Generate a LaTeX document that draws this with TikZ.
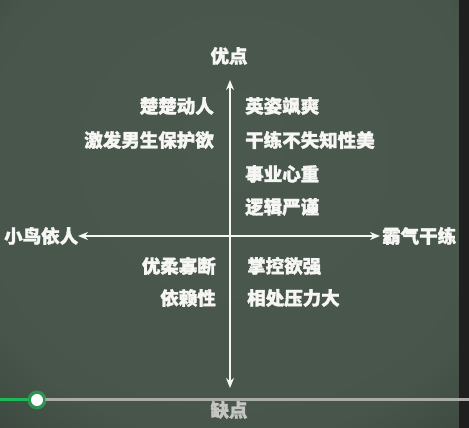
\documentclass[tikz,border=0pt]{standalone}
\usepackage{fontspec}
\newfontfamily\cjk{Noto Sans CJK SC}[BoldFeatures={FakeBold=1.6}]
\usetikzlibrary{arrows.meta}
\definecolor{board}{HTML}{4A584D}
\definecolor{boardedge}{HTML}{2C362F}
\definecolor{chalk}{HTML}{F6F6F4}
\definecolor{playgreen}{HTML}{1DB954}
\definecolor{playgray}{HTML}{A9ACA9}
\tikzset{
  lbl/.style={text=chalk, font=\cjk\bfseries\fontsize{18.5}{18.5}\selectfont, inner sep=0pt},
  axis/.style={draw=chalk, line width=2pt, -{Stealth[length=10pt,width=8pt]}}
}
\begin{document}
\begin{tikzpicture}[x=1pt,y=1pt]
\pgfdeclareradialshading{vign}{\pgfpoint{0bp}{10bp}}{color(0bp)=(board); color(30bp)=(board!92!boardedge); color(50bp)=(boardedge)}
\useasboundingbox (0,0) rectangle (469,428);
\shade[shading=vign] (0,0) rectangle (469,428);
\fill[black!88] (459,0) rectangle (469,428);
% axes
\coordinate (c) at (230,192);
\coordinate (top) at (230,348);
\coordinate (bot) at (230,40);
\coordinate (lft) at (78,192);
\coordinate (rgt) at (380,192);
\draw[axis] (c) -- (top);
\draw[axis] (c) -- (bot);
\draw[axis] (c) -- (lft);
\draw[axis] (c) -- (rgt);
% labels
\node[lbl] (you) at (229,372) {优点};
\node[lbl, text=chalk!80!black] (que) at (229,18) {缺点};
\node[lbl, anchor=west] (xn) at (4,192) {小鸟依人};
\node[lbl, anchor=west] (bq) at (382,192) {霸气干练};
\node[lbl, anchor=east] (a1) at (214,322) {楚楚动人};
\node[lbl, anchor=east] (a2) at (214,288) {激发男生保护欲};
\node[lbl, anchor=west] (b1) at (245,322) {英姿飒爽};
\node[lbl, anchor=west] (b2) at (245,288) {干练不失知性美};
\node[lbl, anchor=west] (b3) at (245,254) {事业心重};
\node[lbl, anchor=west] (b4) at (245,221) {逻辑严谨};
\node[lbl, anchor=east] (c1) at (216,162) {优柔寡断};
\node[lbl, anchor=east] (c2) at (216,130) {依赖性};
\node[lbl, anchor=west] (d1) at (247,162) {掌控欲强};
\node[lbl, anchor=west] (d2) at (247,130) {相处压力大};
% player bar
\coordinate (p0) at (0,28);
\coordinate (p1) at (469,28);
\node[circle, fill=playgreen!60!board, minimum size=19pt, inner sep=0pt] (knobhalo) at (37,28) {};
\draw[playgray, line width=3pt] (knobhalo.center) -- (p1);
\draw[playgreen, line width=3pt] (p0) -- (knobhalo.center);
\node[circle, fill=playgreen!60!board, minimum size=17pt, inner sep=0pt] (knobring) at (37,28) {};
\node[circle, fill=white, minimum size=12pt, inner sep=0pt] (knob) at (37,28) {};
\end{tikzpicture}
\end{document}
